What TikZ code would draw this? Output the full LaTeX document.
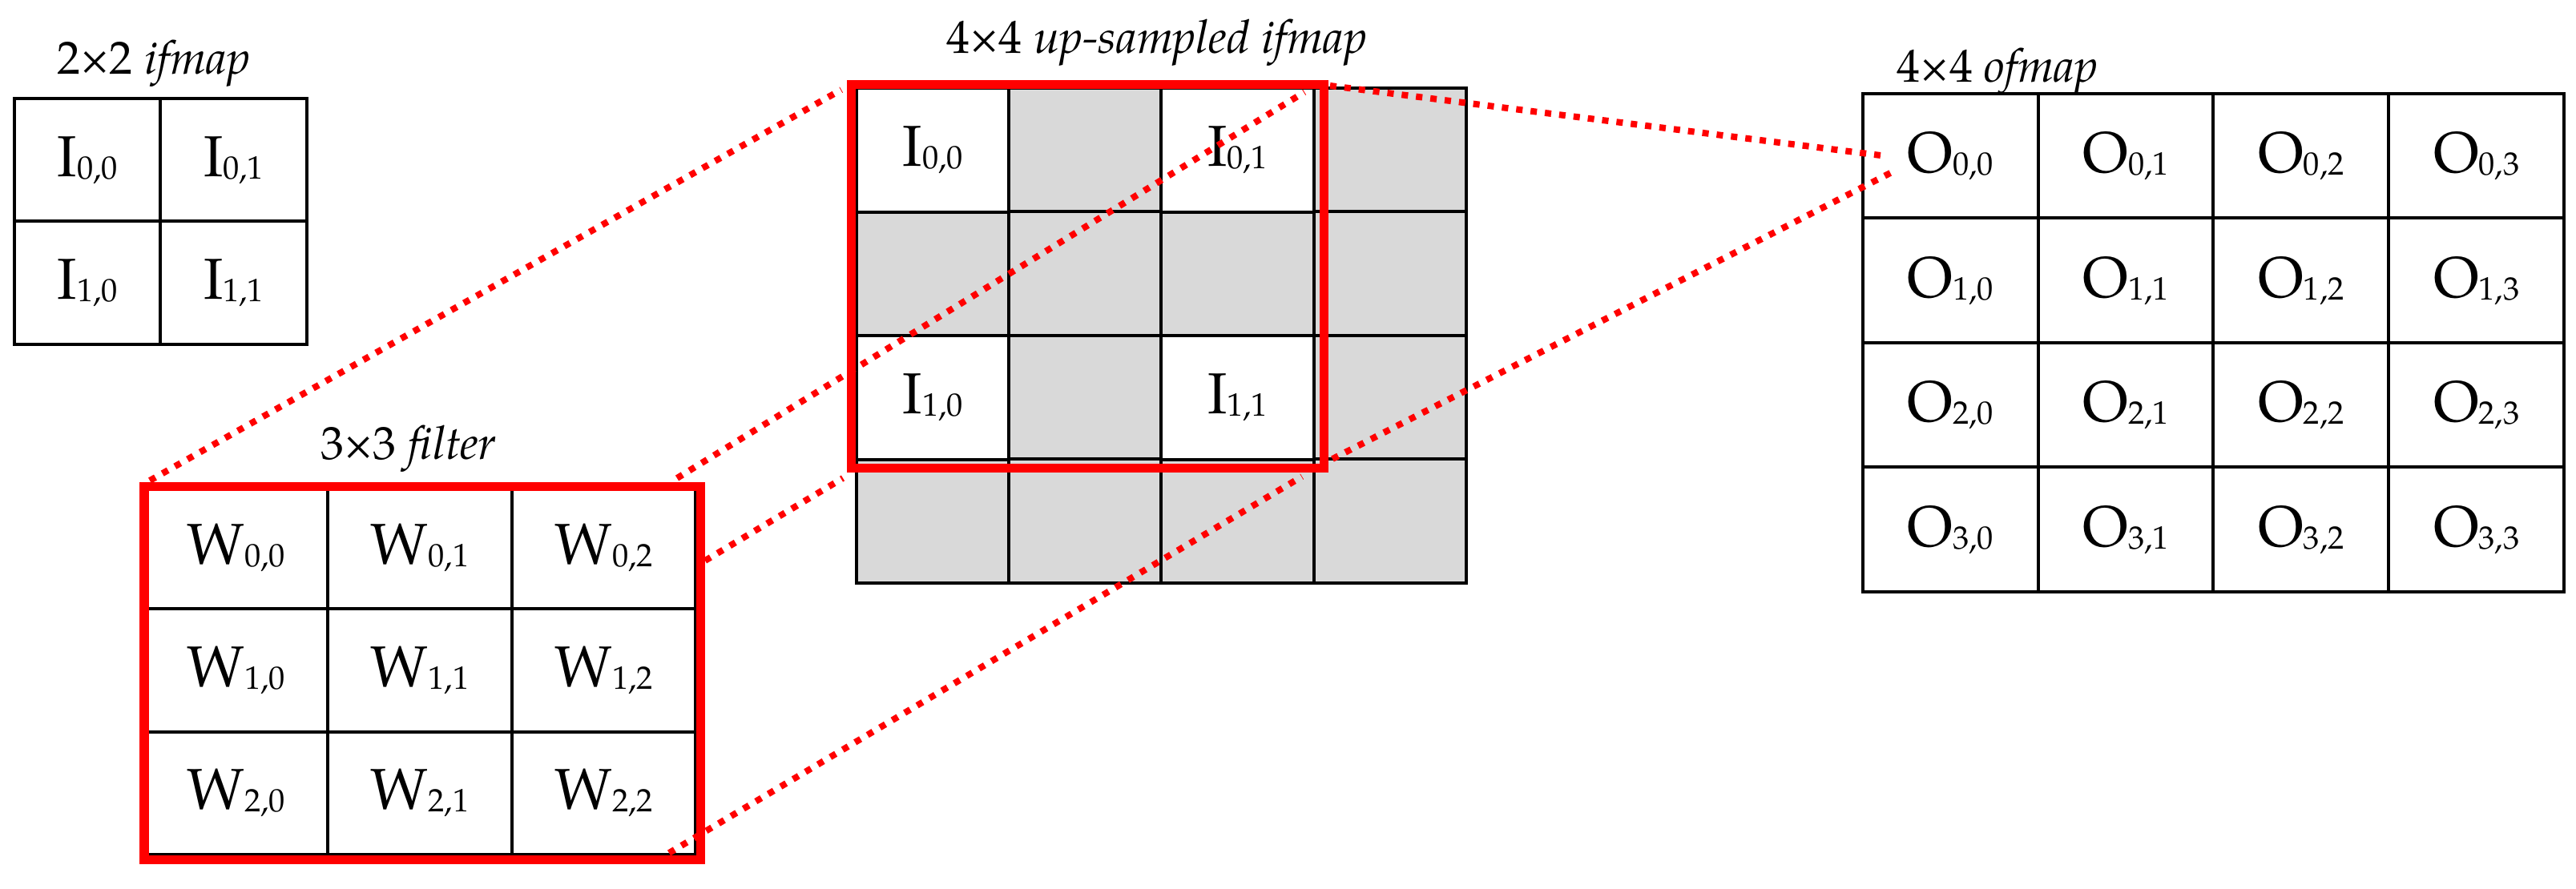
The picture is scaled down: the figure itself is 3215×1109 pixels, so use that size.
\documentclass[tikz,border=0pt]{standalone}
\usepackage{fontspec}
\setmainfont{TeX Gyre Pagella}
\newcommand\cellfont{\fontsize{20.5}{24}\selectfont}
\newcommand\lblfont{\fontsize{16.5}{20}\selectfont}
\newcommand\subs[1]{\raisebox{-0.03cm}{\fontsize{11.5}{13}\selectfont #1}}
\begin{document}
\begin{tikzpicture}[x=0.01cm,y=-0.01cm,
  cellbox/.style={draw=black,line width=0.04cm,inner sep=0pt,font=\cellfont},
  lbl/.style={anchor=base,inner sep=0pt,font=\lblfont},
  redbox/.style={draw=red,line width=0.11cm},
  reddots/.style={draw=red,line width=0.08cm,dash pattern=on 0.08cm off 0.1cm}]
\useasboundingbox (0,0) rectangle (3215,1109);
\definecolor{cellgray}{HTML}{D9D9D9}

% 2x2 ifmap
\foreach \r in {0,1}{\foreach \c in {0,1}{
  \pgfmathsetmacro\cx{18+182.5*\c+91.25}
  \pgfmathsetmacro\cy{123+153.5*\r+76.75}
  \node[cellbox,fill=white,minimum width=1.825cm,minimum height=1.535cm] (a\r\c) at (\cx,\cy) {I\subs{\r,\c}};
}}
\node[lbl] (lblA) at (192,92) {2×2 \textit{ifmap}};

% 3x3 filter
\foreach \r in {0,1,2}{\foreach \c in {0,1,2}{
  \pgfmathsetmacro\cx{180+229.33*\c+114.67}
  \pgfmathsetmacro\cy{607+153.33*\r+76.67}
  \node[cellbox,fill=white,minimum width=2.2933cm,minimum height=1.5333cm] (w\r\c) at (\cx,\cy) {W\subs{\r,\c}};
}}
\node[lbl] (lblW) at (510,573) {3×3 \textit{filter}};
\coordinate (fTL) at (180,607);
\coordinate (fBR) at (874.5,1073.5);
\draw[redbox] (fTL) rectangle (fBR);

% 4x4 up-sampled ifmap
\foreach \r in {0,1,2,3}{\foreach \c in {0,1,2,3}{
  \pgfmathsetmacro\cx{1069+190.25*\c+95.125}
  \pgfmathsetmacro\cy{110+154.5*\r+77.25}
  \node[cellbox,fill=cellgray,minimum width=1.9025cm,minimum height=1.545cm] (u\r\c) at (\cx,\cy) {};
}}
\node[cellbox,fill=white,minimum width=1.9025cm,minimum height=1.545cm] (i00) at (u00) {I\subs{0,0}};
\node[cellbox,fill=white,minimum width=1.9025cm,minimum height=1.545cm] (i01) at (u02) {I\subs{0,1}};
\node[cellbox,fill=white,minimum width=1.9025cm,minimum height=1.545cm] (i10) at (u20) {I\subs{1,0}};
\node[cellbox,fill=white,minimum width=1.9025cm,minimum height=1.545cm] (i11) at (u22) {I\subs{1,1}};
\node[lbl] (lblU) at (1444,66) {4×4 \textit{up-sampled ifmap}};
\coordinate (rTL) at (1062.5,105.5);
\coordinate (rBR) at (1652,584);
\draw[redbox] (rTL) rectangle (rBR);

% 4x4 ofmap
\foreach \r in {0,1,2,3}{\foreach \c in {0,1,2,3}{
  \pgfmathsetmacro\cx{2325+218.75*\c+109.375}
  \pgfmathsetmacro\cy{117+155.5*\r+77.75}
  \node[cellbox,fill=white,minimum width=2.1875cm,minimum height=1.555cm] (o\r\c) at (\cx,\cy) {O\subs{\r,\c}};
}}
\node[lbl] (lblO) at (2493,102) {4×4 \textit{ofmap}};

% connector end points
\coordinate (p1a) at (187,600);   \coordinate (p1b) at (1050,112);
\coordinate (p2a) at (845,597);   \coordinate (p2b) at (1628,115);
\coordinate (p3a) at (880,700);   \coordinate (p3b) at (1052,597);
\coordinate (p4a) at (835,1065);  \coordinate (p4b) at (1625,595);
\coordinate (p5a) at (1660,107);  \coordinate (p5b) at (2355,195);
\coordinate (p6a) at (1663,573);  \coordinate (p6b) at (2367,212);

\draw[reddots] (p1a) -- (p1b);
\draw[reddots] (p2a) -- (p2b);
\draw[reddots] (p3a) -- (p3b);
\draw[reddots] (p4a) -- (p4b);
\draw[reddots] (p5a) -- (p5b);
\draw[reddots] (p6a) -- (p6b);
\end{tikzpicture}
\end{document}
